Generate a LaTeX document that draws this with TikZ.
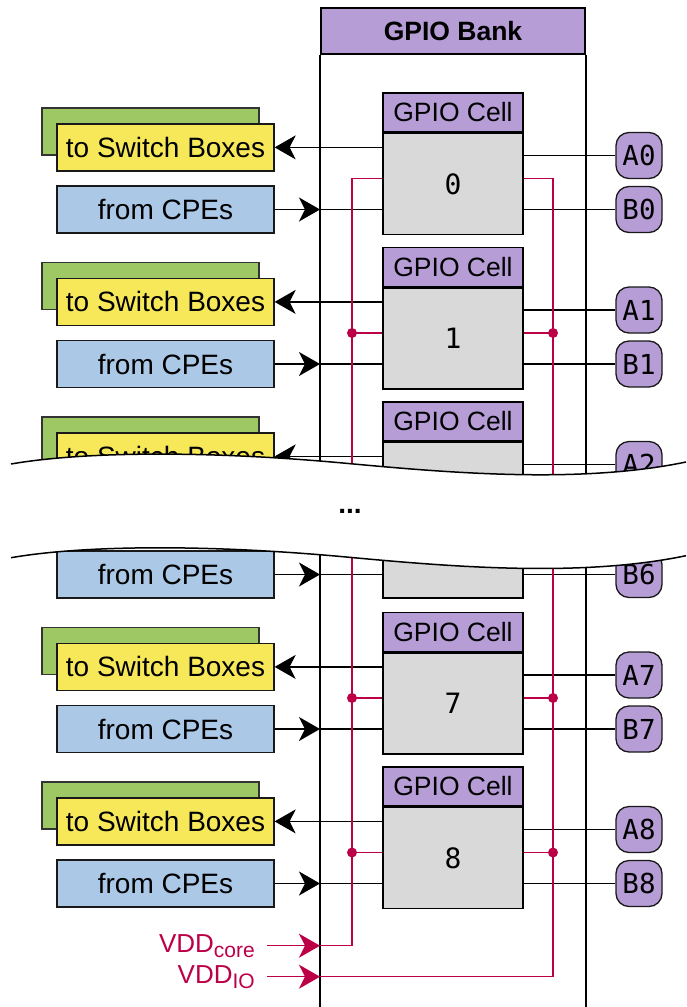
\documentclass[tikz,border=0pt]{standalone}
\usepackage{fontspec}
\setmainfont{Liberation Sans}
\newfontfamily\gpiomono{DejaVu Sans Mono}
\usepackage{xcolor}
\usetikzlibrary{positioning,arrows.meta}
\definecolor{gpiopurple}{RGB}{182,157,214}
\definecolor{gpiogray}{RGB}{217,217,217}
\definecolor{swyellow}{RGB}{247,232,90}
\definecolor{swgreen}{RGB}{158,200,100}
\definecolor{cpeblue}{RGB}{171,200,231}
\definecolor{vddred}{RGB}{188,0,72}

\begin{document}
\begin{tikzpicture}[x=1pt,y=1pt,
  bankhead/.style={draw=black,fill=gpiopurple,line width=2pt,minimum width=264pt,minimum height=46pt,font=\fontsize{26.5}{30}\selectfont\bfseries},
  banklin/.style={black,line width=2pt},
  cellhead/.style={draw=black,fill=gpiopurple,line width=1.5pt,minimum width=140pt,minimum height=39pt,font=\fontsize{26.5}{30}\selectfont},
  cellbody/.style={draw=black,fill=gpiogray,line width=1.5pt,minimum width=140pt,minimum height=101pt,font=\gpiomono\fontsize{28}{30}\selectfont},
  swback/.style={draw=black!80,fill=swgreen,line width=1.3pt,minimum width=217pt,minimum height=47pt},
  swbox/.style={draw=black!90,fill=swyellow,line width=1.3pt,minimum width=217pt,minimum height=47pt,font=\fontsize{28}{30}\selectfont},
  cpebox/.style={draw=black!90,fill=cpeblue,line width=1.3pt,minimum width=217pt,minimum height=47pt,font=\fontsize{28}{30}\selectfont},
  padbox/.style={draw=black!90,fill=gpiopurple,line width=1.3pt,rounded corners=13pt,minimum width=46pt,minimum height=46pt,font=\gpiomono\fontsize{27.5}{30}\selectfont},
  sig/.style={black,line width=1.2pt},
  sigarr/.style={sig,-{Stealth[length=21pt,width=24pt,inset=6pt]}},
  pwr/.style={vddred,line width=1.2pt},
  pwrarr/.style={pwr,-{Stealth[length=21pt,width=24pt,inset=6pt]}},
  vddlbl/.style={text=vddred,anchor=base east},
  brk/.style={black,line width=1.5pt}]
\tikzstyle{every node}+=[inner sep=0pt]
\useasboundingbox (0,0) rectangle (686,-1007);
\node[bankhead] (bank) at (453,-31) {GPIO Bank};
\coordinate (bot) at (0,-1007);
\coordinate (vc) at (267,-945.7);
\coordinate (vi) at (267,-976.7);
\draw[banklin] (bank.south west) -- (bank.south west |- bot);
\draw[banklin] (bank.south east) -- (bank.south east |- bot);

\node[cpebox] (cpe6) at (165.5,-574.5) {from CPEs};
\node[cellbody] (c6) at (453,-547.5) {};
\node[padbox] (b6) at (639,-574.5) {B6};
\draw[sigarr] (cpe6) -- (cpe6 -| bank.west);
\draw[sig] (cpe6 -| bank.west) -- (c6.west |- cpe6);
\draw[sig] (c6.east |- b6) -- (b6);

\node[swback] (g0) at (150.5,-131.5) {};
\node[swbox] (sw0) at (165.5,-147.4) {to Switch Boxes};
\node[cpebox] (cpe0) at (165.5,-209.5) {from CPEs};
\node[cellhead] (h0) at (453,-112.5) {GPIO Cell};
\node[cellbody,below=0pt of h0] (c0) {0};
\node[padbox] (a0) at (639,-155.5) {A0};
\node[padbox] (b0) at (639,-209.5) {B0};
\draw[sigarr] (c0.west |- sw0) -- (sw0);
\draw[sigarr] (cpe0) -- (cpe0 -| bank.west);
\draw[sig] (cpe0 -| bank.west) -- (c0.west |- cpe0);
\draw[sig] (c0.east |- a0) -- (a0);
\draw[sig] (c0.east |- b0) -- (b0);
\coordinate (pl0) at (352,-178.5);
\coordinate (pr0) at (553,-178.5);

\node[swback] (g1) at (150.5,-286) {};
\node[swbox] (sw1) at (165.5,-301.9) {to Switch Boxes};
\node[cpebox] (cpe1) at (165.5,-364) {from CPEs};
\node[cellhead] (h1) at (453,-267) {GPIO Cell};
\node[cellbody,below=0pt of h1] (c1) {1};
\node[padbox] (a1) at (639,-310) {A1};
\node[padbox] (b1) at (639,-364) {B1};
\draw[sigarr] (c1.west |- sw1) -- (sw1);
\draw[sigarr] (cpe1) -- (cpe1 -| bank.west);
\draw[sig] (cpe1 -| bank.west) -- (c1.west |- cpe1);
\draw[sig] (c1.east |- a1) -- (a1);
\draw[sig] (c1.east |- b1) -- (b1);
\coordinate (pl1) at (352,-333);
\coordinate (pr1) at (553,-333);
\draw[pwr] (pl1) -- (c1.west |- pl1);
\draw[pwr] (pr1) -- (c1.east |- pr1);

\node[swback] (g2) at (150.5,-440.5) {};
\node[swbox] (sw2) at (165.5,-456.4) {to Switch Boxes};
\node[cellhead] (h2) at (453,-421.5) {GPIO Cell};
\node[cellbody,below=0pt of h2] (c2) {};
\node[padbox] (a2) at (639,-464.5) {A2};
\draw[sigarr] (c2.west |- sw2) -- (sw2);
\draw[sig] (c2.east |- a2) -- (a2);

\node[swback] (g7) at (150.5,-651) {};
\node[swbox] (sw7) at (165.5,-666.9) {to Switch Boxes};
\node[cpebox] (cpe7) at (165.5,-729) {from CPEs};
\node[cellhead] (h7) at (453,-632) {GPIO Cell};
\node[cellbody,below=0pt of h7] (c7) {7};
\node[padbox] (a7) at (639,-675) {A7};
\node[padbox] (b7) at (639,-729) {B7};
\draw[sigarr] (c7.west |- sw7) -- (sw7);
\draw[sigarr] (cpe7) -- (cpe7 -| bank.west);
\draw[sig] (cpe7 -| bank.west) -- (c7.west |- cpe7);
\draw[sig] (c7.east |- a7) -- (a7);
\draw[sig] (c7.east |- b7) -- (b7);
\coordinate (pl7) at (352,-698);
\coordinate (pr7) at (553,-698);
\draw[pwr] (pl7) -- (c7.west |- pl7);
\draw[pwr] (pr7) -- (c7.east |- pr7);

\node[swback] (g8) at (150.5,-805.5) {};
\node[swbox] (sw8) at (165.5,-821.4) {to Switch Boxes};
\node[cpebox] (cpe8) at (165.5,-883.5) {from CPEs};
\node[cellhead] (h8) at (453,-786.5) {GPIO Cell};
\node[cellbody,below=0pt of h8] (c8) {8};
\node[padbox] (a8) at (639,-829.5) {A8};
\node[padbox] (b8) at (639,-883.5) {B8};
\draw[sigarr] (c8.west |- sw8) -- (sw8);
\draw[sigarr] (cpe8) -- (cpe8 -| bank.west);
\draw[sig] (cpe8 -| bank.west) -- (c8.west |- cpe8);
\draw[sig] (c8.east |- a8) -- (a8);
\draw[sig] (c8.east |- b8) -- (b8);
\coordinate (pl8) at (352,-852.5);
\coordinate (pr8) at (553,-852.5);
\draw[pwr] (pl8) -- (c8.west |- pl8);
\draw[pwr] (pr8) -- (c8.east |- pr8);

\draw[pwr] (c0.west |- pl0) -- (pl0) |- (vc -| bank.west);
\draw[pwr] (c0.east |- pr0) -- (pr0) |- (vi -| bank.west);
\draw[pwrarr] (vc) -- (vc -| bank.west);
\draw[pwrarr] (vi) -- (vi -| bank.west);
\fill[vddred] (pl1) circle (5) (pr1) circle (5);
\fill[vddred] (pl7) circle (5) (pr7) circle (5);
\fill[vddred] (pl8) circle (5) (pr8) circle (5);
\node[vddlbl] (vddc) at (255,-952.7) {{\fontsize{26}{30}\selectfont VDD}{\fontsize{21}{24}\selectfont\raisebox{-5pt}{core}}};
\node[vddlbl] (vddi) at (255,-983.3) {{\fontsize{26}{30}\selectfont VDD}{\fontsize{21}{24}\selectfont\raisebox{-5pt}{IO}}};

\fill[white] (11,-464) .. controls (80,-452) and (200,-450) .. (343,-463) .. controls (450,-473) and (580,-484) .. (686,-462) -- (686,-555.7) .. controls (580,-577.7) and (450,-566.7) .. (343,-556.7) .. controls (200,-543.7) and (80,-545.7) .. (11,-557.7) -- cycle;
\draw[brk] (11,-464) .. controls (80,-452) and (200,-450) .. (343,-463) .. controls (450,-473) and (580,-484) .. (686,-462);
\draw[brk] (11,-557.7) .. controls (80,-545.7) and (200,-543.7) .. (343,-556.7) .. controls (450,-566.7) and (580,-577.7) .. (686,-555.7);
\node[font=\fontsize{28}{30}\selectfont\bfseries] (dots) at (350,-511) {...};
\end{tikzpicture}
\end{document}
